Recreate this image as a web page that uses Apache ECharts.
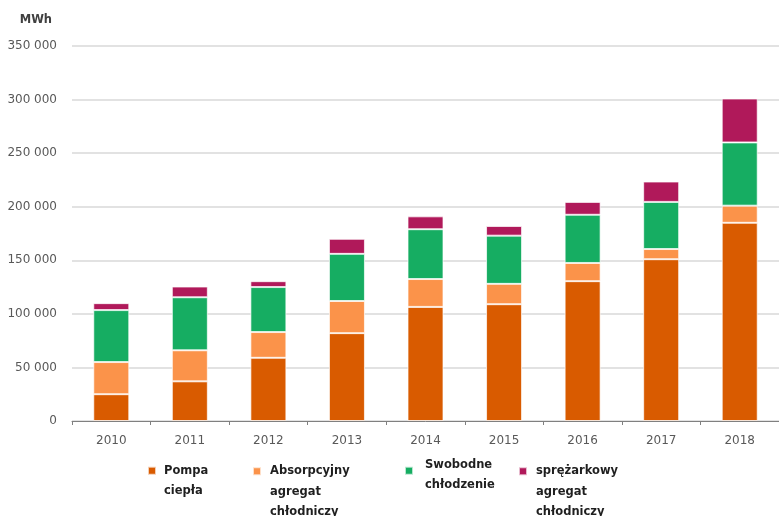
<!DOCTYPE html>
<html>
<head>
<meta charset="utf-8">
<script src="https://cdn.jsdelivr.net/npm/echarts@6/dist/echarts.min.js"></script>
<style>
  html, body { margin: 0; padding: 0; background: #fff; }
  #chart { width: 779px; height: 516px; }
</style>
</head>
<body>
<div id="chart"></div>
<script>
// Annual energy (MWh) by cooling / heat source, stacked per year
const years = ['2010', '2011', '2012', '2013', '2014', '2015', '2016', '2017', '2018'];
const pompaCiepla = [25000, 37000, 59000, 82000, 106500, 109000, 130500, 151000, 185000];
const absorpcyjny = [30000, 29000, 24000, 30000, 26000, 19000, 17000, 9500, 16000];
const swobodne = [48500, 49500, 42000, 44000, 46500, 45000, 45000, 44000, 59000];
const sprezarkowy = [6500, 10000, 5500, 14000, 12000, 9000, 12000, 19000, 41000];
const yTicks = [0, 50000, 100000, 150000, 200000, 250000, 300000, 350000];

const seriesNames = ['Pompa ciepła', 'Absorpcyjny agregat chłodniczy', 'Swobodne chłodzenie', 'sprężarkowy agregat chłodniczy'];
// Legend labels are wrapped; a spacer line on top sets where the marker sits
const legendLabels = {
  'Pompa ciepła': '{s| }\n{t|Pompa}\n{t|ciepła}',
  'Absorpcyjny agregat chłodniczy': '{s| }\n{s| }\n{t|Absorpcyjny}\n{t|agregat}\n{t|chłodniczy}',
  'Swobodne chłodzenie': '{g| }\n{t|Swobodne}\n{t|chłodzenie}',
  'sprężarkowy agregat chłodniczy': '{s| }\n{s| }\n{t|sprężarkowy}\n{t|agregat}\n{t|chłodniczy}'
};
const colors = ['#D95B00', '#FB934A', '#16AD62', '#B0195A'];
const values = [pompaCiepla, absorpcyjny, swobodne, sprezarkowy];

const font = '"DejaVu Sans", sans-serif';
const fmt = v => String(v).replace(/\B(?=(\d{3})+(?!\d))/g, ' ');

function legendFor(i, left, top, textPadding) {
  return {
    data: [seriesNames[i]],
    left: left,
    top: top,
    itemWidth: 8,
    itemHeight: 8,
    icon: 'rect',
    itemGap: 0,
    padding: 0,
    selectedMode: false,
    formatter: n => legendLabels[n],
    textStyle: {
      fontFamily: font, fontSize: 11.5, fontWeight: 'bold', color: '#1f1f1f', lineHeight: 20.5, padding: textPadding,
      rich: {
        t: { fontFamily: font, fontSize: 11.5, fontWeight: 'bold', color: '#1f1f1f', lineHeight: 20.5 },
        s: { fontSize: 1, lineHeight: 20.5 },
        g: { fontSize: 1, lineHeight: 8.5 }
      }
    }
  };
}

const chart = echarts.init(document.getElementById('chart'));
chart.setOption({
  animation: false,
  backgroundColor: '#ffffff',
  grid: { left: 72, right: 0, top: 46, bottom: 95 },
  legend: [
    legendFor(0, 147, 440, [0, 0, 0, 3]),
    legendFor(1, 252, 420, [0, 0, 0, 4]),
    legendFor(2, 404, 446, [0, 0, 0, 7]),
    legendFor(3, 518, 420, [0, 0, 0, 4])
  ],
  xAxis: {
    type: 'category',
    data: years,
    axisLine: { lineStyle: { color: '#808080', width: 1 } },
    axisTick: { show: true, length: 4, lineStyle: { color: '#808080' } },
    axisLabel: { fontFamily: font, fontSize: 12, color: '#595959', margin: 14 }
  },
  yAxis: {
    type: 'value',
    min: 0,
    max: 350000,
    interval: 50000,
    name: 'MWh',
    nameLocation: 'end',
    nameGap: 26,
    nameTextStyle: { fontFamily: font, fontSize: 11.5, fontWeight: 'bold', color: '#404040', align: 'right', verticalAlign: 'middle', padding: [0, 20, 0, 0] },
    axisLine: { show: false },
    axisTick: { show: false },
    axisLabel: {
      fontFamily: font, fontSize: 12, color: '#595959', margin: 15,
      formatter: v => yTicks.includes(v) ? fmt(v) : ''
    },
    splitLine: { lineStyle: { color: '#d9d9d9', width: 1.5 } }
  },
  series: values.map((d, i) => ({
    name: seriesNames[i],
    type: 'bar',
    stack: 'total',
    data: d,
    barWidth: 36,
    itemStyle: { color: colors[i], borderColor: 'rgba(255,255,255,0.7)', borderWidth: 1 }
  }))
});
</script>
</body>
</html>
